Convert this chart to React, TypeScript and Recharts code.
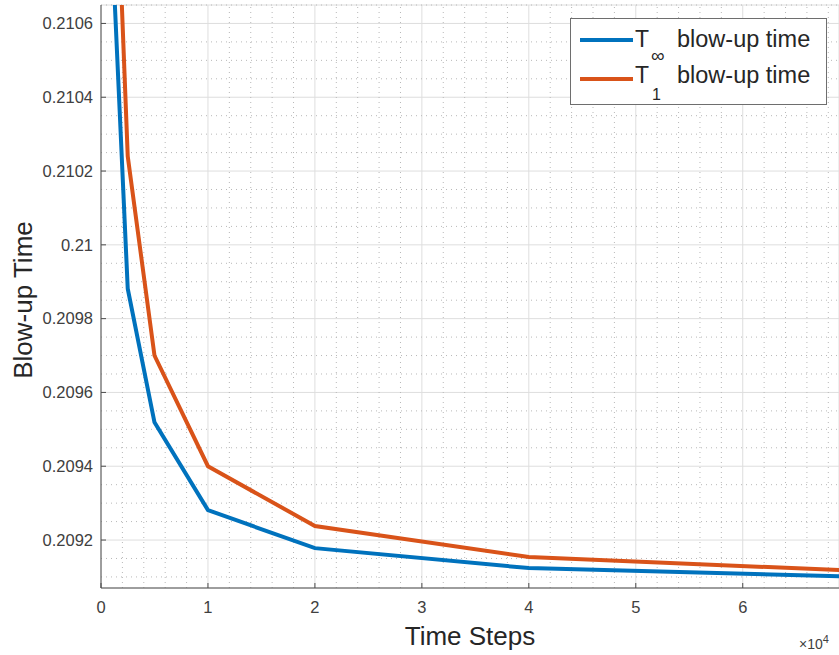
import { LineChart, Line, XAxis, YAxis, CartesianGrid, ReferenceLine, Label } from "recharts";

const steps = [1250, 2500, 5000, 10000, 20000, 40000, 80000];
const tInf = [0.21068, 0.209881, 0.209519, 0.209281, 0.209178, 0.209124, 0.209093];
const tOne = [0.21117, 0.21024, 0.2097, 0.2094, 0.209238, 0.209154, 0.209105];

const xTicks = [0, 10000, 20000, 30000, 40000, 50000, 60000];
const yTicks = [0.2092, 0.2094, 0.2096, 0.2098, 0.21, 0.2102, 0.2104, 0.2106];
const xMinor = Array.from({ length: 35 }, (_, i) => i * 2000).filter((v) => v % 10000 !== 0);
const yMinor = Array.from({ length: 32 }, (_, i) => (20910 + i * 5) / 100000).filter(
  (v) => Math.round(v * 100000) % 20 !== 0
);

const data = steps.map((s, i) => ({ step: s, inf: tInf[i], one: tOne[i] }));

const BLUE = "#0072BD";
const ORANGE = "#D95319";
const FONT = "'Liberation Sans', Arial, Helvetica, sans-serif";

function LegendBox() {
  return (
    <svg width={258} height={88} style={{ display: "block" }}>
      <rect x={0.5} y={0.5} width={256} height={86} fill="#fff" stroke="#6e6e6e" strokeWidth={1} />
      <line x1={10} x2={63} y1={22} y2={22} stroke={BLUE} strokeWidth={4} />
      <text x={65} y={29} fontSize={23} fill="#262626" fontFamily={FONT}>T</text>
      <text x={81} y={44} fontSize={19} fill="#262626" fontFamily={FONT}>∞</text>
      <text x={107} y={29} fontSize={23.5} fill="#262626" fontFamily={FONT}>blow-up time</text>
      <line x1={10} x2={63} y1={61} y2={61} stroke={ORANGE} strokeWidth={4} />
      <text x={65} y={65} fontSize={23} fill="#262626" fontFamily={FONT}>T</text>
      <text x={82} y={82} fontSize={16} fill="#262626" fontFamily={FONT}>1</text>
      <text x={107} y={65} fontSize={23.5} fill="#262626" fontFamily={FONT}>blow-up time</text>
    </svg>
  );
}

export default function App() {
  return (
    <div style={{ position: "absolute", left: 0, top: 0, width: 839, height: 655, background: "#fff", fontFamily: FONT }}>
      <LineChart width={839} height={655} data={data} margin={{ top: 5, right: 0, bottom: 0, left: 0 }}>
        {xMinor.map((v) => (
          <ReferenceLine key={"xm" + v} x={v} stroke="#b8b8b8" strokeDasharray="1 4" strokeWidth={1} />
        ))}
        {yMinor.map((v) => (
          <ReferenceLine key={"ym" + v} y={v} stroke="#b8b8b8" strokeDasharray="1 4" strokeWidth={1} />
        ))}
        <CartesianGrid stroke="#dedede" strokeWidth={1} />
        <XAxis
          dataKey="step"
          type="number"
          domain={[0, 69000]}
          allowDataOverflow
          ticks={xTicks}
          tickFormatter={(v: number) => String(v / 10000)}
          height={67}
          tickSize={-5}
          tickMargin={18}
          stroke="#4d4d4d"
          tick={{ fontSize: 16.5, fill: "#404040", fontFamily: FONT }}
        >
          <Label
            content={({ viewBox }: any) => (
              <g>
                <text
                  x={viewBox.x + viewBox.width / 2}
                  y={645}
                  textAnchor="middle"
                  fontSize={26}
                  fill="#262626"
                  fontFamily={FONT}
                >
                  Time Steps
                </text>
                <text x={799} y={649} fontSize={14} fill="#404040" fontFamily={FONT}>
                  ×10
                  <tspan dy={-6} fontSize={11}>4</tspan>
                </text>
              </g>
            )}
          />
        </XAxis>
        <XAxis
          xAxisId="top"
          orientation="top"
          type="number"
          domain={[0, 69000]}
          allowDataOverflow
          ticks={xTicks}
          tickFormatter={() => ""}
          height={0}
          tickSize={-5}
          stroke="#4d4d4d"
        />
        <YAxis
          type="number"
          domain={[0.20907, 0.21065]}
          allowDataOverflow
          ticks={yTicks}
          tickFormatter={(v: number) => String(Number(v.toFixed(4)))}
          width={101}
          tickSize={-5}
          tickMargin={13}
          stroke="#4d4d4d"
          tick={{ fontSize: 16.5, fill: "#404040", fontFamily: FONT }}
        >
          <Label
            content={() => (
              <text
                x={32}
                y={300}
                transform="rotate(-90, 32, 300)"
                textAnchor="middle"
                fontSize={26}
                fill="#262626"
                fontFamily={FONT}
              >
                Blow-up Time
              </text>
            )}
          />
        </YAxis>
        <Line
          type="linear"
          dataKey="inf"
          stroke={BLUE}
          strokeWidth={4}
          dot={false}
          isAnimationActive={false}
        />
        <Line
          type="linear"
          dataKey="one"
          stroke={ORANGE}
          strokeWidth={4}
          dot={false}
          isAnimationActive={false}
        />
      </LineChart>
      <div style={{ position: "absolute", left: 570, top: 18 }}>
        <LegendBox />
      </div>
    </div>
  );
}
